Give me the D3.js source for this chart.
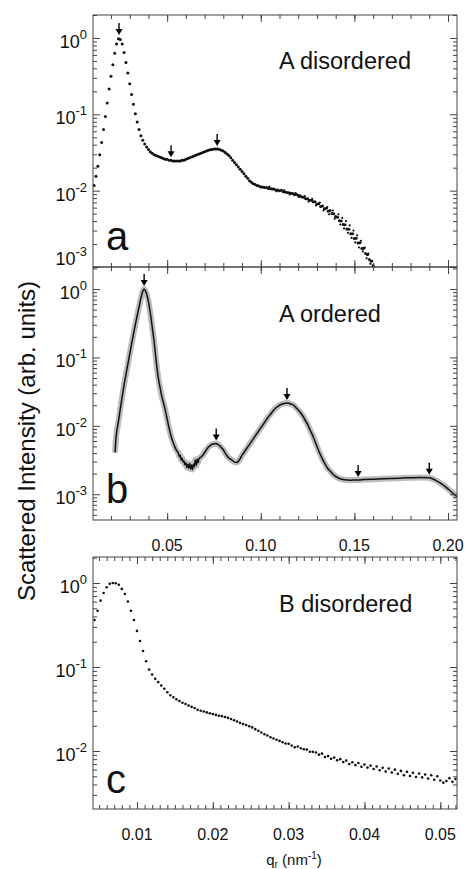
<!DOCTYPE html>
<html>
<head>
<meta charset="utf-8">
<script src="https://cdn.jsdelivr.net/npm/d3@7"></script>
<style>
  body { margin: 0; background: #fff; }
  svg { display: block; }
  text { font-family: "Liberation Sans", Arial, Helvetica, sans-serif; fill: #111; }
</style>
</head>
<body>
<div id="chart"></div>
<script>
// ---- data: [q (nm^-1), intensity] ----

// panel a: A disordered (dots)
const panelA = [
  [0.011,1.17e-2],[0.012,1.55e-2],[0.013,2.09e-2],[0.014,2.95e-2],[0.015,4.27e-2],[0.016,6.31e-2],[0.017,9.33e-2],[0.018,0.141],[0.019,0.214],[0.020,0.316],
  [0.021,0.447],[0.022,0.631],[0.023,0.832],[0.024,0.977],[0.025,0.955],[0.026,0.832],[0.027,0.646],[0.028,0.479],[0.029,0.347],[0.030,0.251],
  [0.031,0.182],[0.032,0.135],[0.033,0.102],[0.034,0.0794],[0.035,0.0631],[0.036,0.0525],[0.037,0.0457],[0.038,0.0407],[0.039,0.0372],[0.040,0.0347],
  [0.041,0.0324],[0.042,0.0309],[0.043,0.0295],[0.044,0.0288],[0.045,0.0282],[0.046,0.0275],[0.047,0.0269],[0.048,0.0263],[0.049,0.0257],[0.050,0.0257],
  [0.051,0.0251],[0.052,0.0251],[0.053,0.0245],[0.054,0.0245],[0.055,0.0245],[0.056,0.0245],[0.057,0.0245],[0.058,0.0251],[0.059,0.0251],[0.060,0.0257],
  [0.061,0.0263],[0.062,0.0269],[0.063,0.0275],[0.064,0.0282],[0.065,0.0288],[0.066,0.0295],[0.067,0.0302],[0.068,0.0309],[0.069,0.0316],[0.070,0.0324],
  [0.071,0.0331],[0.072,0.0339],[0.073,0.0343],[0.074,0.0347],[0.075,0.0351],[0.076,0.0351],[0.077,0.0351],[0.078,0.0347],[0.079,0.0339],[0.080,0.0331],
  [0.081,0.0316],[0.082,0.0302],[0.083,0.0288],[0.084,0.0269],[0.085,0.0251],[0.086,0.0234],[0.087,0.0219],[0.088,0.0204],[0.089,0.0191],[0.090,0.0178],
  [0.091,0.0166],[0.092,0.0155],[0.093,0.0145],[0.094,0.0135],[0.095,0.0129],[0.096,0.0123],[0.097,0.0120],[0.098,0.0117],[0.099,0.0115],[0.100,0.0112],
  [0.101,0.0112],[0.102,0.0110],[0.103,0.0110],[0.104,0.0107],[0.105,0.0107],[0.106,0.0105],[0.107,0.0105],[0.108,0.0102],[0.109,0.0102],[0.110,0.0100],
  [0.111,0.0101],[0.112,0.00970],[0.113,0.00962],[0.114,0.00948],[0.115,0.00940],[0.116,0.00925],[0.117,0.00918],[0.118,0.00885],[0.119,0.00897],[0.120,0.00865],
  [0.121,0.00860],[0.122,0.00825],[0.123,0.00820],[0.124,0.00785],[0.125,0.00784],[0.126,0.00750],[0.127,0.00750],[0.128,0.00715],[0.129,0.00715],[0.130,0.00668],
  [0.131,0.00672],[0.132,0.00622],[0.133,0.00628],[0.134,0.00578],[0.135,0.00588],[0.136,0.00538],[0.137,0.00550],[0.138,0.00502],[0.139,0.00500],[0.140,0.00458],
  [0.141,0.00450],[0.142,0.00405],[0.143,0.00400],[0.144,0.00360],[0.145,0.00358],[0.146,0.00315],[0.147,0.00312],[0.148,0.00272],[0.149,0.00272],[0.150,0.00237],
  [0.151,0.00238],[0.152,0.00206],[0.153,0.00208],[0.154,0.00175],[0.155,0.00176],[0.156,0.00150],[0.157,0.00145],[0.158,0.00125],[0.159,0.00119],[0.160,0.00105]
];
// scattered points around the noisy tail of panel a
const panelAScatter = [
  [0.1045,0.0113],[0.1085,0.0098],[0.1125,0.0101],[0.1155,0.0089],[0.1185,0.0093],[0.1205,0.0082],[0.1235,0.0085],[0.1255,0.0072],
  [0.1275,0.0078],[0.1295,0.0064],[0.1315,0.0070],[0.1335,0.0055],[0.1355,0.0061],[0.1365,0.0049],[0.1385,0.0055],[0.1395,0.0043],
  [0.1415,0.0049],[0.1425,0.0036],[0.1435,0.0044],[0.1445,0.0032],[0.1455,0.0040],[0.1465,0.0028],[0.1475,0.0035],[0.1485,0.0024],
  [0.1495,0.0030],[0.1505,0.0021],[0.1515,0.0026],[0.1525,0.0018],[0.1535,0.0022],[0.1545,0.0016],[0.1555,0.0018],[0.1565,0.0013],
  [0.1575,0.0015],[0.1585,0.0011],[0.1595,0.0012],[0.1605,0.00100]
];

// panel b: A ordered (data band + fit line)
const panelB = [
  [0.0222,0.00407],[0.0226,0.00631],[0.0230,0.00794],[0.0240,0.0117],[0.0250,0.0178],[0.0260,0.0269],[0.0270,0.0398],[0.0280,0.0562],[0.0290,0.0794],[0.0300,0.112],
  [0.0310,0.158],[0.0320,0.219],[0.0330,0.302],[0.0340,0.407],[0.0350,0.550],[0.0360,0.741],[0.0370,0.933],[0.0377,1.00],[0.0385,0.933],[0.0395,0.759],
  [0.0400,0.661],[0.0410,0.447],[0.0420,0.282],[0.0430,0.174],[0.0440,0.0955],[0.0450,0.0562],[0.0460,0.0389],[0.0470,0.0282],[0.0480,0.0219],[0.0490,0.0170],
  [0.0500,0.0126],[0.0510,0.00933],[0.0520,0.00724],[0.0530,0.00589],[0.0540,0.00501],[0.0550,0.00437],[0.0560,0.00398],[0.0565,0.00355],[0.0570,0.00372],[0.0575,0.00316],
  [0.0580,0.00339],[0.0585,0.00295],[0.0590,0.00309],[0.0595,0.00269],[0.0600,0.00288],[0.0605,0.00245],[0.0610,0.00275],[0.0615,0.00240],[0.0620,0.00282],[0.0625,0.00234],
  [0.0630,0.00269],[0.0635,0.00229],[0.0640,0.00275],[0.0645,0.00251],[0.0650,0.00316],[0.0655,0.00263],[0.0660,0.00324],[0.0665,0.00288],[0.0670,0.00331],[0.0680,0.00347],
  [0.0690,0.00372],[0.0700,0.00407],[0.0710,0.00447],[0.0720,0.00490],[0.0730,0.00513],[0.0740,0.00537],[0.0750,0.00543],[0.0760,0.00550],[0.0770,0.00537],[0.0780,0.00513],
  [0.0790,0.00479],[0.0800,0.00447],[0.0810,0.00398],[0.0820,0.00363],[0.0830,0.00339],[0.0840,0.00324],[0.0850,0.00309],[0.0860,0.00295],[0.0870,0.00292],[0.0880,0.00302],
  [0.0890,0.00331],[0.0900,0.00372],[0.0910,0.00407],[0.0920,0.00447],[0.0930,0.00490],[0.0940,0.00537],[0.0950,0.00589],[0.0960,0.00646],[0.0970,0.00708],[0.0980,0.00776],
  [0.0990,0.00851],[0.1000,0.00933],[0.1010,0.0102],[0.1020,0.0112],[0.1030,0.0123],[0.1040,0.0135],[0.1050,0.0145],[0.1060,0.0158],[0.1070,0.0170],[0.1080,0.0182],
  [0.1090,0.0191],[0.1100,0.0200],[0.1110,0.0207],[0.1120,0.0211],[0.1130,0.0214],[0.1140,0.0216],[0.1150,0.0214],[0.1160,0.0209],[0.1170,0.0204],[0.1180,0.0195],
  [0.1190,0.0182],[0.1200,0.0170],[0.1210,0.0158],[0.1220,0.0145],[0.1230,0.0132],[0.1240,0.0117],[0.1250,0.0105],[0.1260,0.00912],[0.1270,0.00794],[0.1280,0.00692],
  [0.1290,0.00589],[0.1300,0.00501],[0.1310,0.00427],[0.1320,0.00372],[0.1330,0.00324],[0.1340,0.00288],[0.1350,0.00257],[0.1360,0.00234],[0.1370,0.00219],[0.1380,0.00204],
  [0.1390,0.00191],[0.1400,0.00182],[0.1420,0.00170],[0.1440,0.00164],[0.1460,0.00162],[0.1480,0.00160],[0.1500,0.00162],[0.1520,0.00162],[0.1550,0.00164],[0.1600,0.00166],
  [0.1650,0.00168],[0.1700,0.00170],[0.1750,0.00172],[0.1800,0.00174],[0.1850,0.00176],[0.1900,0.00174],[0.1930,0.00162],[0.1960,0.00145],[0.1990,0.00126],[0.2020,0.00107],
  [0.2050,0.00091]
];

// panel c: B disordered (dots)
const panelC = [
  [0.0044,0.363],[0.0048,0.468],[0.0052,0.617],[0.0056,0.759],[0.0060,0.891],[0.0064,0.977],[0.0068,1.00],[0.0072,0.995],[0.0076,0.955],[0.0080,0.851],
  [0.0084,0.741],[0.0088,0.603],[0.0092,0.468],[0.0096,0.363],[0.0100,0.269],[0.0104,0.204],[0.0108,0.155],[0.0112,0.117],[0.0116,0.0933],[0.0120,0.0813],
  [0.0124,0.0724],[0.0128,0.0661],[0.0132,0.0603],[0.0136,0.0550],[0.0140,0.0501],[0.0144,0.0462],[0.0148,0.0437],[0.0152,0.0412],[0.0156,0.0394],[0.0160,0.0376],
  [0.0164,0.0363],[0.0168,0.0347],[0.0172,0.0335],[0.0176,0.0324],[0.0180,0.0309],[0.0184,0.0302],[0.0188,0.0295],[0.0192,0.0288],[0.0196,0.0282],[0.0200,0.0275],
  [0.0204,0.0269],[0.0208,0.0263],[0.0212,0.0260],[0.0216,0.0254],[0.0220,0.0248],[0.0224,0.0240],[0.0228,0.0232],[0.0232,0.0224],[0.0236,0.0216],[0.0240,0.0209],
  [0.0244,0.0204],[0.0248,0.0197],[0.0252,0.0191],[0.0256,0.0182],[0.0260,0.0174],[0.0264,0.0166],[0.0268,0.0158],[0.0272,0.0153],[0.0276,0.0146],[0.0280,0.0141],
  [0.0284,0.0136],[0.0288,0.0132],[0.0292,0.0127],[0.0296,0.0123],[0.0300,0.0122],[0.0304,0.0116],[0.0308,0.0111],[0.0312,0.0113],[0.0316,0.0108],[0.0320,0.0105],
  [0.0324,0.0104],[0.0328,0.0098],[0.0332,0.00977],[0.0336,0.00960],[0.0340,0.00905],[0.0344,0.00930],[0.0348,0.00850],[0.0352,0.00870],[0.0356,0.00810],[0.0360,0.00835],
  [0.0364,0.00775],[0.0368,0.00800],[0.0372,0.00740],[0.0376,0.00770],[0.0380,0.00700],[0.0384,0.00735],[0.0388,0.00680],[0.0392,0.00720],[0.0396,0.00650],[0.0400,0.00690],
  [0.0404,0.00635],[0.0408,0.00670],[0.0412,0.00610],[0.0416,0.00655],[0.0420,0.00590],[0.0424,0.00630],[0.0428,0.00570],[0.0432,0.00620],[0.0436,0.00555],[0.0440,0.00600],
  [0.0444,0.00535],[0.0448,0.00580],[0.0452,0.00515],[0.0456,0.00565],[0.0460,0.00505],[0.0464,0.00550],[0.0468,0.00490],[0.0472,0.00540],[0.0476,0.00485],[0.0480,0.00525],
  [0.0484,0.00470],[0.0488,0.00515],[0.0492,0.00455],[0.0496,0.00500],[0.0500,0.00445],[0.0504,0.00420],[0.0508,0.00440],[0.0512,0.00475],[0.0516,0.00430],[0.0520,0.00465]
];

// peak markers (arrows): q position and intensity at the curve
const arrowsA = [[0.0243,1.0],[0.0521,0.0251],[0.0767,0.0351]];
const arrowsB = [[0.0377,1.0],[0.0762,0.0055],[0.1140,0.0216],[0.1520,0.00162],[0.1900,0.00174]];

// axis ticks and labels
const abTicks = [0.05, 0.10, 0.15, 0.20];
const abTickLabels = ["0.05", "0.10", "0.15", "0.20"];
const cTicks = [0.01, 0.02, 0.03, 0.04, 0.05];
const cTickLabels = ["0.01", "0.02", "0.03", "0.04", "0.05"];
const yTicksA = [1e-3, 1e-2, 1e-1, 1], yExpA = ["-3", "-2", "-1", "0"];
const yTicksB = [1e-3, 1e-2, 1e-1, 1], yExpB = ["-3", "-2", "-1", "0"];
const yTicksC = [1e-2, 1e-1, 1], yExpC = ["-2", "-1", "0"];
const panelTitles = ["A disordered", "A ordered", "B disordered"];
const panelLetters = ["a", "b", "c"];

// ---- layout ----
const W = 466, H = 869;
const left = 93, right = 457;
const pa = {top: 15, bottom: 267}, pb = {top: 267, bottom: 520}, pc = {top: 557, bottom: 809};
const ink = "#444";

const svg = d3.select("#chart").append("svg")
    .attr("width", W)
    .attr("height", H);

// scales
const xAB = d3.scaleLinear().domain([0.0104, 0.2048]).range([left, right]);
const xC = d3.scaleLinear().domain([0.0042, 0.0522]).range([left, right]);
const yA = d3.scaleLog().domain([1e-3, 2]).range([pa.bottom, pa.top]);
const yB = d3.scaleLog().domain([4.2e-4, 2.1]).range([pb.bottom, pb.top]);
const yC = d3.scaleLog().domain([2.04e-3, 2.04]).range([pc.bottom, pc.top]);

// clip each panel so data stays in the frame
function clip(id, p) {
  svg.append("clipPath").attr("id", id)
    .append("rect")
    .attr("x", left).attr("y", p.top)
    .attr("width", right - left).attr("height", p.bottom - p.top);
}
clip("clipA", pa); clip("clipB", pb); clip("clipC", pc);

// inward ticks on all four sides
function frameAxes(x, y, p, xMajor, xMinorCount) {
  const minorX = x.ticks(xMinorCount);
  const decades = y.ticks().filter(v => Math.abs(Math.log10(v) - Math.round(Math.log10(v))) < 1e-6);
  const minorY = y.ticks().filter(v => !decades.includes(v));

  const sides = [
    [d3.axisBottom(x), `translate(0,${p.top})`, minorX, xMajor],
    [d3.axisTop(x), `translate(0,${p.bottom})`, minorX, xMajor],
    [d3.axisRight(y), `translate(${left},0)`, minorY, decades],
    [d3.axisLeft(y), `translate(${right},0)`, minorY, decades]
  ];
  sides.forEach(([ax, tr, minor, major]) => {
    svg.append("g").attr("transform", tr).attr("color", ink)
      .call(ax.tickValues(minor).tickSize(4).tickFormat(""))
      .call(g => g.select(".domain").remove());
    svg.append("g").attr("transform", tr).attr("color", ink)
      .call(ax.tickValues(major).tickSize(7).tickFormat(""))
      .call(g => g.select(".domain").remove());
  });

  svg.append("rect")
    .attr("x", left).attr("y", p.top)
    .attr("width", right - left).attr("height", p.bottom - p.top)
    .attr("fill", "none")
    .attr("stroke", ink)
    .attr("stroke-width", 1);
}

// "10^n" labels on the left
function yLabels(y, ticks, exps, p) {
  ticks.forEach((v, i) => {
    const base = Math.min(y(v) + 10, p.bottom - 2);
    const t = svg.append("text")
      .attr("x", 87).attr("y", base)
      .attr("text-anchor", "end")
      .style("font-size", "18px");
    t.append("tspan").text("10");
    t.append("tspan").attr("dy", -9).style("font-size", "13px").text(exps[i]);
  });
}

function xLabels(x, ticks, labels, yy) {
  svg.selectAll(null)
    .data(ticks)
    .join("text")
    .attr("x", d => x(d))
    .attr("y", yy)
    .attr("text-anchor", "middle")
    .style("font-size", "16px")
    .text((d, i) => labels[i]);
}

function arrows(x, y, list) {
  list.forEach(([q, v]) => {
    const px = x(q), tip = y(v) - 3;
    svg.append("line")
      .attr("x1", px).attr("x2", px)
      .attr("y1", tip - 12).attr("y2", tip - 4)
      .attr("stroke", "#000").attr("stroke-width", 1.4);
    svg.append("path")
      .attr("d", `M${px - 3.5},${tip - 6}L${px + 3.5},${tip - 6}L${px},${tip}Z`)
      .attr("fill", "#000");
  });
}

// ---- panel a ----
const gA = svg.append("g").attr("clip-path", "url(#clipA)");
gA.selectAll("circle.main")
  .data(panelA)
  .join("circle")
  .attr("class", "main")
  .attr("cx", d => xAB(d[0]))
  .attr("cy", d => yA(d[1]))
  .attr("r", 1.5)
  .attr("fill", "#111");
gA.selectAll("circle.scatter")
  .data(panelAScatter)
  .join("circle")
  .attr("class", "scatter")
  .attr("cx", d => xAB(d[0]))
  .attr("cy", d => yA(d[1]))
  .attr("r", 1.1)
  .attr("fill", "#111");
frameAxes(xAB, yA, pa, abTicks, 20);
yLabels(yA, yTicksA, yExpA, pa);
arrows(xAB, yA, arrowsA);

// ---- panel b ----
const gB = svg.append("g").attr("clip-path", "url(#clipB)");
const lineB = d3.line()
  .x(d => xAB(d[0]))
  .y(d => yB(d[1]))
  .curve(d3.curveMonotoneX);
gB.append("path")
  .datum(panelB)
  .attr("fill", "none")
  .attr("stroke", "#bcbcbc")
  .attr("stroke-width", 6)
  .attr("stroke-linejoin", "round")
  .attr("d", lineB);
gB.append("path")
  .datum(panelB)
  .attr("fill", "none")
  .attr("stroke", "#111")
  .attr("stroke-width", 1.5)
  .attr("d", lineB);
frameAxes(xAB, yB, pb, abTicks, 20);
yLabels(yB, yTicksB, yExpB, pb);
xLabels(xAB, abTicks, abTickLabels, 551);
arrows(xAB, yB, arrowsB);

// ---- panel c ----
const gC = svg.append("g").attr("clip-path", "url(#clipC)");
gC.selectAll("circle")
  .data(panelC)
  .join("circle")
  .attr("cx", d => xC(d[0]))
  .attr("cy", d => yC(d[1]))
  .attr("r", 1.3)
  .attr("fill", "#111");
frameAxes(xC, yC, pc, cTicks, 50);
yLabels(yC, yTicksC, yExpC, pc);
xLabels(xC, cTicks, cTickLabels, 840);

// ---- panel titles and letters ----
[[69, 0], [322, 1], [612, 2]].forEach(([yy, i]) => {
  svg.append("text")
    .attr("x", 279).attr("y", yy)
    .style("font-size", "23.5px")
    .text(panelTitles[i]);
});
[[250, 0], [503, 1], [793, 2]].forEach(([yy, i]) => {
  svg.append("text")
    .attr("x", 106).attr("y", yy)
    .style("font-size", "40px")
    .text(panelLetters[i]);
});

// ---- axis titles ----
svg.append("text")
  .attr("transform", "translate(35,441) rotate(-90)")
  .attr("text-anchor", "middle")
  .style("font-size", "24px")
  .text("Scattered Intensity (arb. units)");

const xt = svg.append("text")
  .attr("x", 294).attr("y", 865)
  .attr("text-anchor", "middle")
  .style("font-size", "15px");
xt.append("tspan").text("q");
xt.append("tspan").attr("dy", 3).style("font-size", "10px").text("r");
xt.append("tspan").attr("dy", -3).text(" (nm");
xt.append("tspan").attr("dy", -6).style("font-size", "10px").text("-1");
xt.append("tspan").attr("dy", 6).text(")");
</script>
</body>
</html>
